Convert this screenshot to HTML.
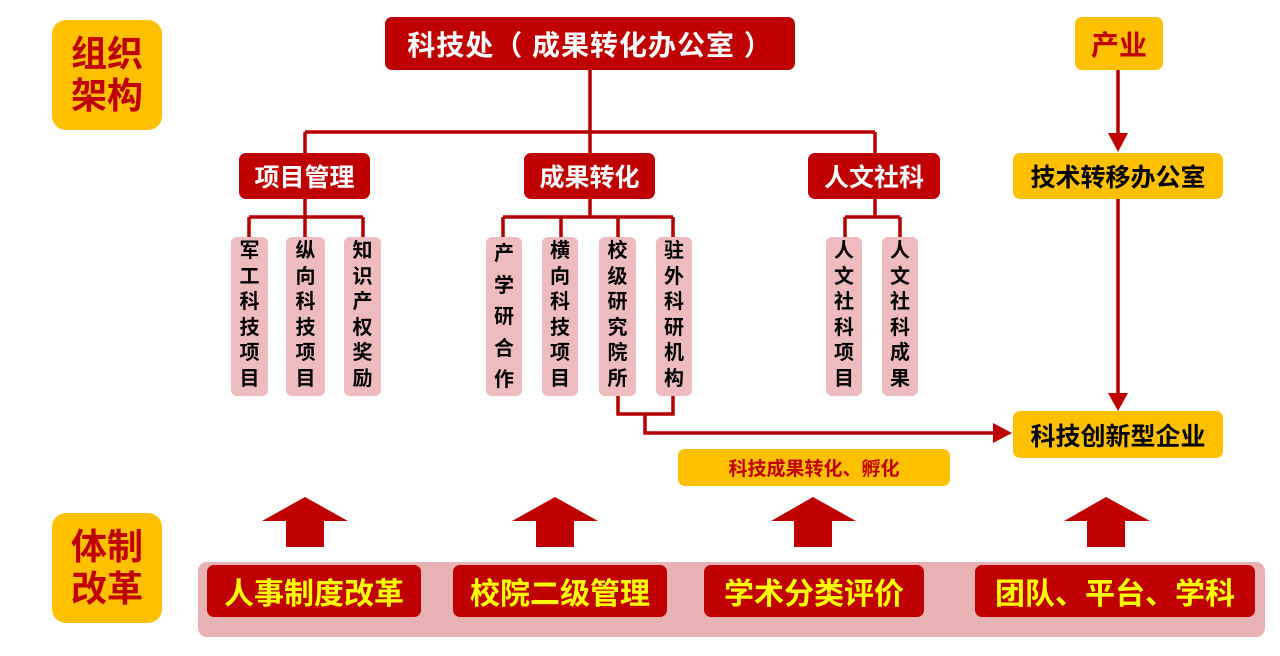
<!DOCTYPE html>
<html><head><meta charset="utf-8"><style>
html,body{margin:0;padding:0;background:#fff;}
body{width:1280px;height:656px;position:relative;overflow:hidden;font-family:"Liberation Sans","Noto Sans CJK SC","WenQuanYi Zen Hei",sans-serif;font-weight:bold;}
.a{position:absolute;display:flex;align-items:center;justify-content:center;box-sizing:border-box;white-space:nowrap;}
.r{background:#c00000;color:#fff;border-radius:7px;}
.y{background:#ffc000;border-radius:7px;}
.v{background:#eebcbf;border-radius:6px;color:#000;font-size:20px;line-height:25.5px;text-align:center;flex-direction:column;justify-content:flex-start;padding-top:2px;}
.bt{color:#ffff00;font-size:30px;}
svg{position:absolute;left:0;top:0;}
</style></head><body>
<svg width="1280" height="656">
<g stroke="#b40000" stroke-width="3.5" fill="none">
<path d="M590 70V132M305 132H875M305 132V153M590 132V153M875 132V153"/>
<path d="M305 199V217M249 217H363M249 217V237M305 217V237M363 217V237"/>
<path d="M590 199V217M503 217H673M503 217V237M561 217V237M618 217V237M673 217V237"/>
<path d="M875 199V217M845 217H900M845 217V237M900 217V237"/>
<path d="M618 396V414H673V396M645 414V433H995"/>
<path d="M1118 70V135M1118 199V395"/>
</g>
<g fill="#c00000">
<polygon points="993,423 1012,433 993,443"/>
<polygon points="1108,133 1128,133 1118,152"/>
<polygon points="1108,393 1128,393 1118,411"/>
<polygon points="262,521 348,521 305,497"/><rect x="286" y="519" width="38" height="28"/>
<polygon points="512,521 598,521 555,497"/><rect x="536" y="519" width="38" height="28"/>
<polygon points="771,521 856,521 813,497"/><rect x="794" y="519" width="38" height="28"/>
<polygon points="1064,521 1150,521 1106,497"/><rect x="1087" y="519" width="38" height="28"/>
</g>
</svg>
<div class="a y" style="left:52px;top:20px;width:110px;height:110px;border-radius:14px;color:#c00000;font-size:36px;line-height:42px;text-align:center;white-space:normal;">组织<br>架构</div>
<div class="a y" style="left:52px;top:513px;width:110px;height:110px;border-radius:14px;color:#c00000;font-size:36px;line-height:42px;text-align:center;white-space:normal;">体制<br>改革</div>
<div class="a r" style="left:385px;top:17px;width:410px;height:53px;font-size:28px;letter-spacing:1px;">科技处（ 成果转化办公室 ）</div>
<div class="a r" style="left:239px;top:153px;width:131px;height:46px;font-size:25px;">项目管理</div>
<div class="a r" style="left:524px;top:153px;width:131px;height:46px;font-size:25px;">成果转化</div>
<div class="a r" style="left:808px;top:153px;width:132px;height:46px;font-size:25px;">人文社科</div>
<div class="a y" style="left:1075px;top:17px;width:88px;height:53px;color:#c00000;font-size:28px;">产业</div>
<div class="a y" style="left:1013px;top:153px;width:210px;height:46px;color:#000;font-size:25px;">技术转移办公室</div>
<div class="a y" style="left:1013px;top:411px;width:210px;height:47px;color:#000;font-size:25px;">科技创新型企业</div>
<div class="a y" style="left:678px;top:449px;width:272px;height:37px;color:#c00000;font-size:19px;">科技成果转化、孵化</div>

<div class="a v" style="left:231px;top:237px;width:37px;height:159px;">军<br>工<br>科<br>技<br>项<br>目</div>
<div class="a v" style="left:286px;top:237px;width:39px;height:159px;">纵<br>向<br>科<br>技<br>项<br>目</div>
<div class="a v" style="left:344px;top:237px;width:37px;height:159px;">知<br>识<br>产<br>权<br>奖<br>励</div>
<div class="a v" style="left:486px;top:237px;width:36px;height:159px;line-height:31.5px;">产<br>学<br>研<br>合<br>作</div>
<div class="a v" style="left:542px;top:237px;width:36px;height:159px;">横<br>向<br>科<br>技<br>项<br>目</div>
<div class="a v" style="left:599px;top:237px;width:37px;height:159px;">校<br>级<br>研<br>究<br>院<br>所</div>
<div class="a v" style="left:656px;top:237px;width:36px;height:159px;">驻<br>外<br>科<br>研<br>机<br>构</div>
<div class="a v" style="left:826px;top:237px;width:36px;height:159px;">人<br>文<br>社<br>科<br>项<br>目</div>
<div class="a v" style="left:882px;top:237px;width:36px;height:159px;">人<br>文<br>社<br>科<br>成<br>果</div>

<div style="position:absolute;left:198px;top:562px;width:1067px;height:75px;background:#e8b2b5;border-radius:9px;"></div>
<div class="a r bt" style="left:207px;top:565px;width:214px;height:52px;">人事制度改革</div>
<div class="a r bt" style="left:453px;top:565px;width:214px;height:52px;">校院二级管理</div>
<div class="a r bt" style="left:704px;top:565px;width:220px;height:52px;">学术分类评价</div>
<div class="a r bt" style="left:975px;top:565px;width:280px;height:52px;">团队、平台、学科</div>
</body></html>
